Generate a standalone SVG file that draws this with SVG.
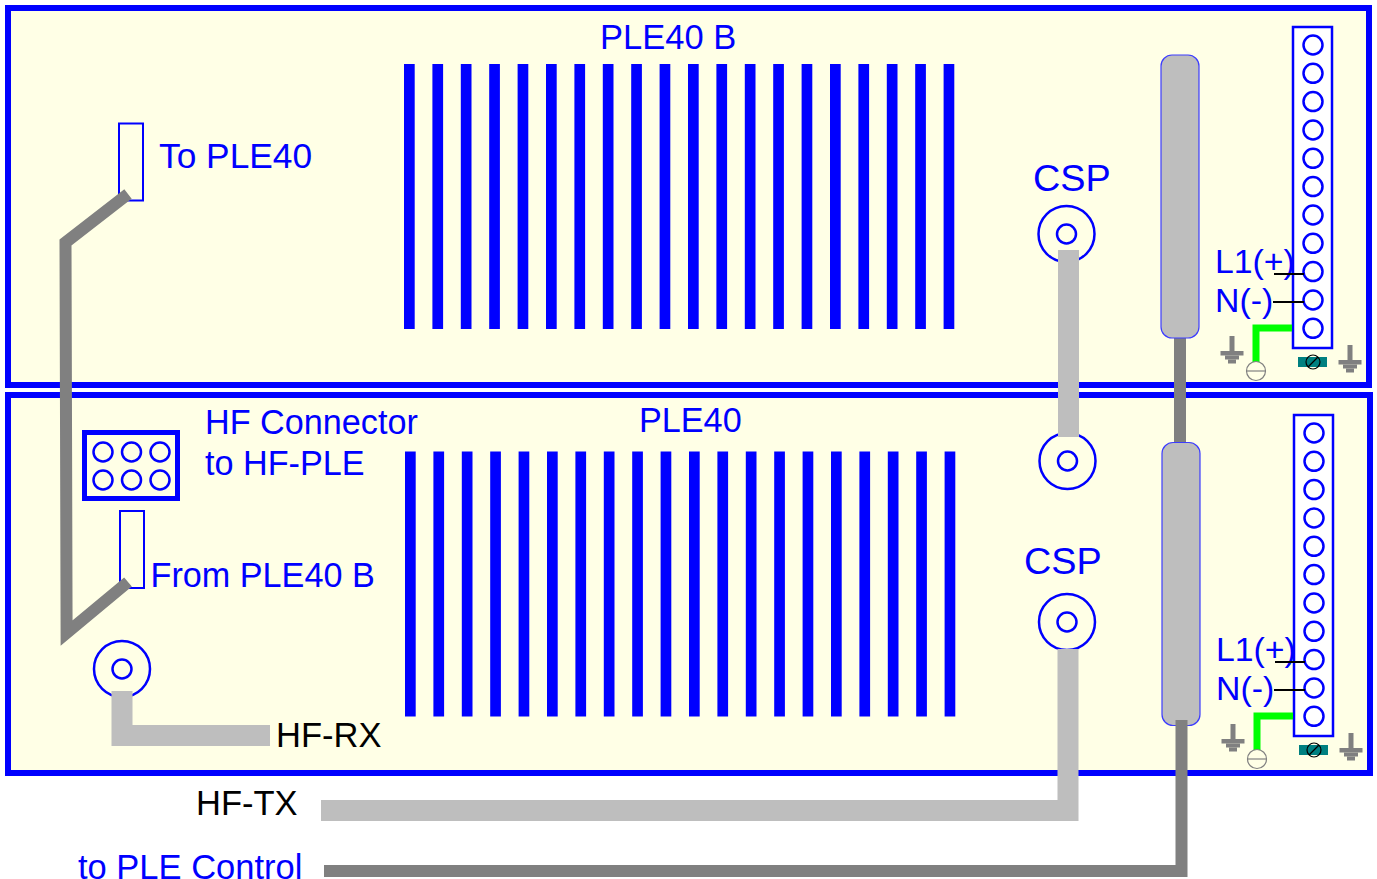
<svg xmlns="http://www.w3.org/2000/svg" width="1377" height="879" viewBox="0 0 1377 879">
<style>
text{font-family:"Liberation Sans",Arial,sans-serif;font-size:34.200px}
.b{fill:#0000ff}.k{fill:#000}
.l{font-size:34.500px}
.csp{font-size:37.800px}
.tl{font-size:33.800px}
.frame{fill:#ffffe6;stroke:#0000ff;stroke-width:6}
.o{fill:none;stroke:#0000ff;stroke-width:2.500}
.fin{fill:#0000ff}
.tb{fill:#fff;stroke:#0000ff;stroke-width:2.500}
.port{fill:#ffffe6;stroke:#0000ff;stroke-width:2}
.bar{fill:#bebebe;stroke:#3c3cff;stroke-width:1.200}
.lg{fill:none;stroke:#bebebe;stroke-width:21}
.dg{fill:none;stroke:#808080;stroke-width:12}
.gnd{fill:#808080}
.w{stroke:#000;stroke-width:2}
</style>
<defs>
<g id="fins">
<rect class="fin" x="0" width="10.700" height="265"/><rect class="fin" x="28.400" width="10.700" height="265"/><rect class="fin" x="56.800" width="10.700" height="265"/><rect class="fin" x="85.200" width="10.700" height="265"/><rect class="fin" x="113.600" width="10.700" height="265"/><rect class="fin" x="142" width="10.700" height="265"/><rect class="fin" x="170.400" width="10.700" height="265"/><rect class="fin" x="198.800" width="10.700" height="265"/><rect class="fin" x="227.200" width="10.700" height="265"/><rect class="fin" x="255.600" width="10.700" height="265"/><rect class="fin" x="284" width="10.700" height="265"/><rect class="fin" x="312.400" width="10.700" height="265"/><rect class="fin" x="340.800" width="10.700" height="265"/><rect class="fin" x="369.200" width="10.700" height="265"/><rect class="fin" x="397.600" width="10.700" height="265"/><rect class="fin" x="426" width="10.700" height="265"/><rect class="fin" x="454.400" width="10.700" height="265"/><rect class="fin" x="482.800" width="10.700" height="265"/><rect class="fin" x="511.200" width="10.700" height="265"/><rect class="fin" x="539.600" width="10.700" height="265"/>
</g>
<g id="coax"><circle class="o" r="28"/><circle class="o" r="9.500"/></g>
<g id="gnd"><rect class="gnd" x="-2.500" y="-15" width="5" height="15"/><rect class="gnd" x="-11.500" y="0" width="23" height="4.500"/><rect class="gnd" x="-7" y="4.500" width="14" height="4"/><rect class="gnd" x="-4" y="8.500" width="8" height="4"/></g>
<g id="terminal">
<rect class="tb" x="1293" y="27" width="39" height="321"/>
<circle class="o" cx="1313" cy="45" r="9.500"/><circle class="o" cx="1313" cy="73.300" r="9.500"/><circle class="o" cx="1313" cy="101.600" r="9.500"/><circle class="o" cx="1313" cy="130" r="9.500"/><circle class="o" cx="1313" cy="158.300" r="9.500"/><circle class="o" cx="1313" cy="186.600" r="9.500"/><circle class="o" cx="1313" cy="215" r="9.500"/><circle class="o" cx="1313" cy="243.300" r="9.500"/><circle class="o" cx="1313" cy="271.600" r="9.500"/><circle class="o" cx="1313" cy="300" r="9.500"/><circle class="o" cx="1313" cy="328.300" r="9.500"/>
<text class="b tl" x="1215" y="272.500">L1(+)</text>
<text class="b tl" x="1215" y="311.500">N(-)</text>
<line class="w" x1="1274" y1="274" x2="1304" y2="274"/>
<line class="w" x1="1273" y1="302" x2="1304" y2="302"/>
<path d="M1292 328H1256V365" fill="none" stroke="#00ff00" stroke-width="7"/>
<circle cx="1256" cy="371" r="9.500" fill="#ffffe6" stroke="#808080" stroke-width="1.200"/>
<line x1="1246.500" y1="371" x2="1265.500" y2="371" stroke="#808080" stroke-width="1.200"/>
<use href="#gnd" x="1232" y="351"/>
<use href="#gnd" x="1350" y="360"/>
<rect x="1298" y="357" width="29" height="10" fill="#008080"/>
<circle cx="1313" cy="362" r="7" fill="none" stroke="#000" stroke-width="1.200"/>
<line x1="1308" y1="367" x2="1318" y2="357" stroke="#000" stroke-width="1.200"/>
</g>
</defs>
<rect width="1377" height="879" fill="#fff"/>
<g id="unit-ple40b">
<rect class="frame" x="8" y="8" width="1361" height="377"/>
<use href="#fins" x="404" y="64"/>
<text class="b l" x="600" y="48.500">PLE40 B</text>
</g>
<g id="unit-ple40">
<rect class="frame" x="8" y="395" width="1362" height="378"/>
<use href="#fins" x="405" y="451.500"/>
<text class="b" x="639" y="432">PLE40</text>
</g>
<g id="port-to-ple40"><rect class="port" x="119" y="123.500" width="24" height="77"/><text class="b" x="159" y="168" style="font-size:35.300px">To PLE40</text></g>
<g id="port-from-ple40b"><rect class="port" x="120" y="511" width="24" height="77"/><text class="b" x="150.500" y="587">From PLE40 B</text></g>
<g id="hf-connector">
<rect x="84.500" y="432.500" width="93" height="66" fill="#ffffe6" stroke="#0000ff" stroke-width="5"/>
<circle class="o" cx="103" cy="452" r="9.500"/><circle class="o" cx="131.500" cy="452" r="9.500"/><circle class="o" cx="160" cy="452" r="9.500"/>
<circle class="o" cx="103" cy="480" r="9.500"/><circle class="o" cx="131.500" cy="480" r="9.500"/><circle class="o" cx="160" cy="480" r="9.500"/>
<text class="b" x="205" y="434">HF Connector</text>
<text class="b" x="205" y="475">to HF-PLE</text>
</g>
<g id="csp-top"><use href="#coax" x="1066.500" y="234"/><text class="b csp" x="1033" y="191">CSP</text></g>
<g id="csp-link-end"><use href="#coax" x="1067.500" y="461"/></g>
<g id="csp-bottom"><use href="#coax" x="1067" y="622"/><text class="b csp" x="1024" y="574">CSP</text></g>
<g id="hf-rx-port"><use href="#coax" x="122" y="669"/></g>
<g id="terminal-top"><use href="#terminal"/></g>
<g id="terminal-bottom"><use href="#terminal" x="1" y="388"/></g>
<g id="connectors">
<path class="dg" d="M1180 335V445"/>
<rect class="bar" x="1161" y="55" width="38" height="283" rx="11"/>
<rect class="bar" x="1162" y="442.500" width="38" height="283" rx="11"/>
<path class="dg" d="M128 194L65.500 242.500L66.600 633L128 582"/>
<path class="lg" d="M1068.500 250V437"/>
<path class="lg" d="M122 691V735.500H270"/>
<path class="lg" d="M1068 649V810.500H321"/>
<path class="dg" d="M1181.500 720V871H324"/>
</g>
<g id="labels">
<text class="k l" x="276" y="747">HF-RX</text>
<text class="k l" x="196" y="815">HF-TX</text>
<text class="b l" x="78" y="879">to PLE Control</text>
</g>
</svg>
